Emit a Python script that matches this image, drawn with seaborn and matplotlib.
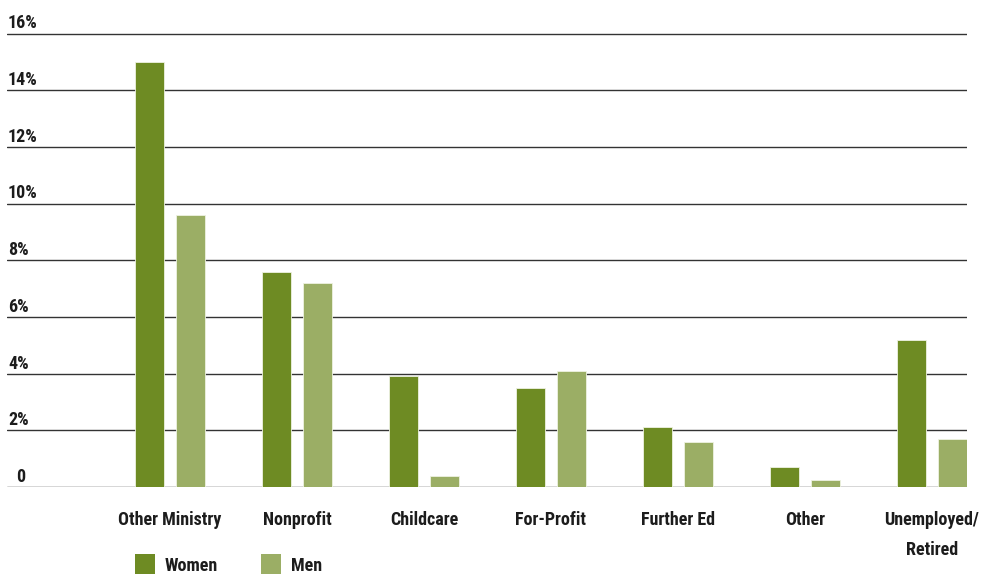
import matplotlib
matplotlib.use("Agg")
import matplotlib.pyplot as plt
from matplotlib import font_manager
from matplotlib.patches import Rectangle
import seaborn as sns
import pandas as pd

categories = ["Other Ministry", "Nonprofit", "Childcare", "For-Profit",
              "Further Ed", "Other", "Unemployed/\nRetired"]
women = [15.0, 7.6, 3.9, 3.5, 2.1, 0.7, 5.2]
men = [9.6, 7.2, 0.4, 4.1, 1.6, 0.25, 1.7]
series = ["Women", "Men"]
y_ticks = [0, 2, 4, 6, 8, 10, 12, 14, 16]
y_tick_labels = ["0", "2%", "4%", "6%", "8%", "10%", "12%", "14%", "16%"]

colors = {"Women": "#6E8B23", "Men": "#9BAE65"}
text_color = "#1c1c1c"
label_weight = 800

sns.set_theme(style="white")
available = {f.name for f in font_manager.fontManager.ttflist}
family = next((f for f in ["Roboto Condensed", "Archivo Narrow", "Liberation Sans Narrow",
                           "Roboto"] if f in available), "DejaVu Sans")
plt.rcParams["font.family"] = [family, "DejaVu Sans"]

df = pd.DataFrame({
    "category": categories * 2,
    "value": women + men,
    "series": ["Women"] * len(categories) + ["Men"] * len(categories),
})

W, H = 984, 574
fig = plt.figure(figsize=(W / 100, H / 100), dpi=100)
px_per_unit = 28.34
y0 = 487
ymax = 16.1
top_px = y0 - ymax * px_per_unit
ax = fig.add_axes([7 / W, (H - y0) / H, (967 - 7) / W, (y0 - top_px) / H])

sns.barplot(data=df, x="category", y="value", hue="series", hue_order=series,
            palette=colors, width=0.646, gap=0.29, saturation=1,
            edgecolor="#eef2e2", linewidth=0.6,
            legend=False, ax=ax, zorder=3)

ax.set_xlim(-1.283, 6.276)
ax.set_ylim(0, ymax)
ax.set_xlabel("")
ax.set_ylabel("")
for s in ax.spines.values():
    s.set_visible(False)

ax.set_yticks(y_ticks)
ax.set_yticklabels([])
ax.tick_params(axis="both", length=0)
ax.yaxis.grid(True, color="#333333", linewidth=1.0)
ax.xaxis.grid(False)
ax.set_axisbelow(True)

# y labels sit just above each gridline at the left edge
trans = ax.get_yaxis_transform()
for v, lab in zip(y_ticks, y_tick_labels):
    xoff = 0.0095 if lab == "0" else 0.001
    ax.text(xoff, v + 0.18, lab, transform=trans, ha="left", va="baseline",
            fontsize=13, fontweight=label_weight, color=text_color)

# category labels below the axis
ax.set_xticks(range(len(categories)))
ax.set_xticklabels(categories, fontsize=13, fontweight=label_weight, color=text_color,
                   linespacing=1.9, va="top")
ax.tick_params(axis="x", pad=17)

# legend row at the bottom
for i, name in enumerate(series):
    x0 = 135 + i * 126
    fig.patches.append(Rectangle((x0 / W, 0), 20 / W, 20 / H,
                                 transform=fig.transFigure,
                                 facecolor=colors[name], edgecolor="none"))
    fig.text((x0 + 30) / W, 8 / H, name, ha="left", va="center",
             fontsize=13, fontweight=label_weight, color=text_color)

fig.savefig("out.png", dpi=100, facecolor="white")
